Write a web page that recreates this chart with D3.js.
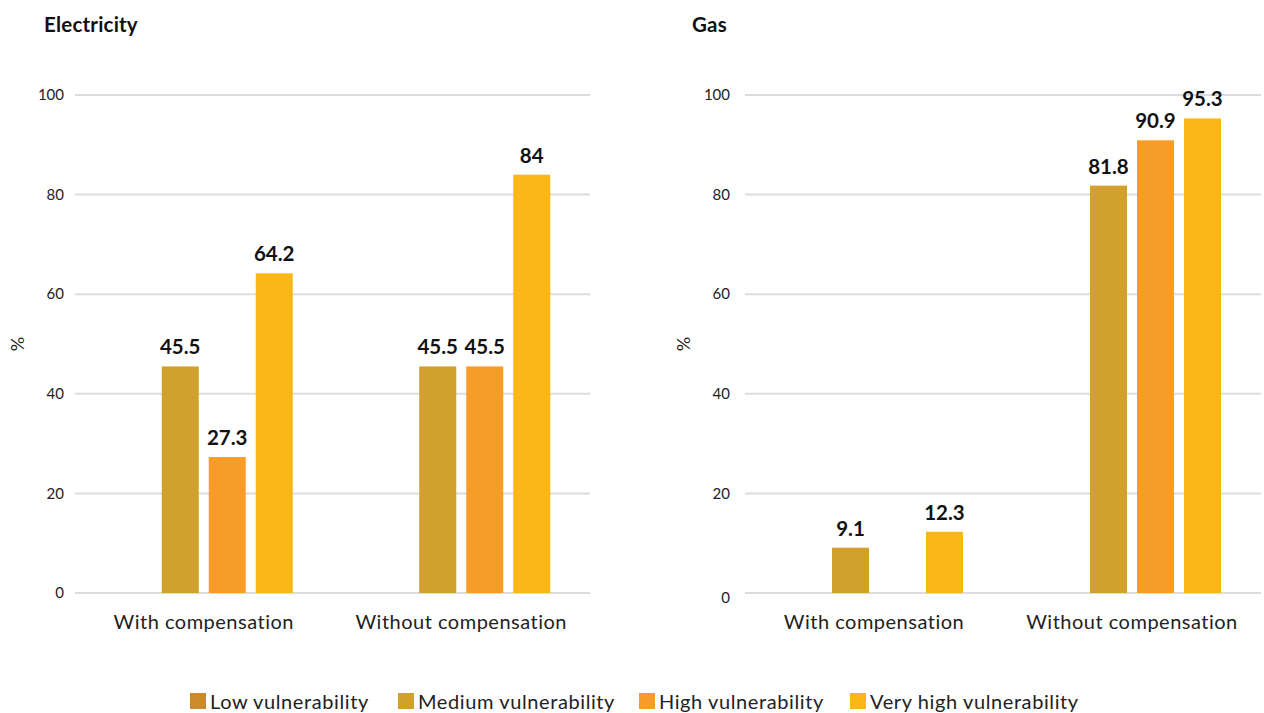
<!DOCTYPE html>
<html>
<head>
<meta charset="utf-8">
<script src="https://cdn.jsdelivr.net/npm/d3@7"></script>
<style>
  html, body { margin: 0; padding: 0; background: #fff; }
  svg { display: block; font-family: Lato, "Open Sans", sans-serif; }
</style>
</head>
<body>
<svg id="chart" width="1264" height="713"></svg>
<script>
// Chart data
const categories = ["With compensation", "Without compensation"];
const seriesNames = ["Low vulnerability", "Medium vulnerability", "High vulnerability", "Very high vulnerability"];
const seriesColors = ["#CB8A2D", "#D2A02D", "#F89D28", "#FBB617"];
const yTicks = [0, 20, 40, 60, 80, 100];

// values per series, in category order (null = no bar)
const electricityLow = [null, null];
const electricityMedium = [45.5, 45.5];
const electricityHigh = [27.3, 45.5];
const electricityVeryHigh = [64.2, 84];

const gasLow = [null, null];
const gasMedium = [9.1, 81.8];
const gasHigh = [null, 90.9];
const gasVeryHigh = [12.3, 95.3];

const panels = [
  { title: "Electricity", series: [electricityLow, electricityMedium, electricityHigh, electricityVeryHigh],
    left: 75, right: 590, titleX: 44, tickX: 64, yLabelX: 18, zeroShift: 0 },
  { title: "Gas", series: [gasLow, gasMedium, gasHigh, gasVeryHigh],
    left: 745, right: 1261, titleX: 692, tickX: 730, yLabelX: 684, zeroShift: 5 }
];

const svg = d3.select("#chart");
const plotTop = 95, plotBottom = 593;
const y = d3.scaleLinear().domain([0, 100]).range([plotBottom, plotTop]);

panels.forEach(p => {
  const g = svg.append("g");

  g.append("text")
    .attr("x", p.titleX).attr("y", 32)
    .attr("font-size", 20.5).attr("font-weight", 700).attr("fill", "#111")
    .attr("letter-spacing", 0.2)
    .text(p.title);

  // gridlines
  g.selectAll("line.grid").data(yTicks).join("line")
    .attr("x1", p.left).attr("x2", p.right)
    .attr("y1", d => y(d)).attr("y2", d => y(d))
    .attr("stroke", "#dcdcdc").attr("stroke-width", 2);

  // tick labels
  g.selectAll("text.tick").data(yTicks).join("text")
    .attr("x", p.tickX)
    .attr("y", d => y(d) + (d === 0 ? p.zeroShift : 0))
    .attr("dy", "0.35em")
    .attr("text-anchor", "end")
    .attr("font-size", 15).attr("fill", "#222")
    .text(d => d);

  // y axis title
  g.append("text")
    .attr("transform", `translate(${p.yLabelX + 6},${(plotTop + plotBottom) / 2}) rotate(-90)`)
    .attr("text-anchor", "middle")
    .attr("font-size", 18).attr("fill", "#222")
    .text("%");

  const x0 = d3.scaleBand().domain(categories).range([p.left, p.right]).padding(0);
  const bw = x0.bandwidth();
  const groupW = 178;
  const x1 = d3.scaleBand().domain(d3.range(seriesNames.length))
    .range([(bw - groupW) / 2, (bw + groupW) / 2])
    .paddingInner(10 / 47).paddingOuter(0);

  // category labels
  g.selectAll("text.cat").data(categories).join("text")
    .attr("x", d => x0(d) + bw / 2).attr("y", 629)
    .attr("text-anchor", "middle")
    .attr("font-size", 20).attr("letter-spacing", 0.5).attr("fill", "#222")
    .text(d => d);

  const bars = [];
  p.series.forEach((vals, si) => {
    vals.forEach((v, ci) => {
      if (v !== null) bars.push({ si, cat: categories[ci], v });
    });
  });

  g.selectAll("rect.bar").data(bars).join("rect")
    .attr("x", d => x0(d.cat) + x1(d.si))
    .attr("width", x1.bandwidth())
    .attr("y", d => y(d.v))
    .attr("height", d => y(0) - y(d.v))
    .attr("fill", d => seriesColors[d.si]);

  g.selectAll("text.val").data(bars).join("text")
    .attr("x", d => x0(d.cat) + x1(d.si) + x1.bandwidth() / 2)
    .attr("y", d => y(d.v) - 12)
    .attr("text-anchor", "middle")
    .attr("font-size", 20.5).attr("font-weight", 700).attr("fill", "#111")
    .text(d => d.v);
});

// legend
const legendX = [190, 398, 639, 850];
const lg = svg.append("g");
seriesNames.forEach((name, i) => {
  lg.append("rect")
    .attr("x", legendX[i]).attr("y", 693)
    .attr("width", 16).attr("height", 16)
    .attr("fill", seriesColors[i]);
  lg.append("text")
    .attr("x", legendX[i] + 20).attr("y", 709)
    .attr("font-size", 20).attr("letter-spacing", 0.6).attr("fill", "#222")
    .text(name);
});
</script>
</body>
</html>
